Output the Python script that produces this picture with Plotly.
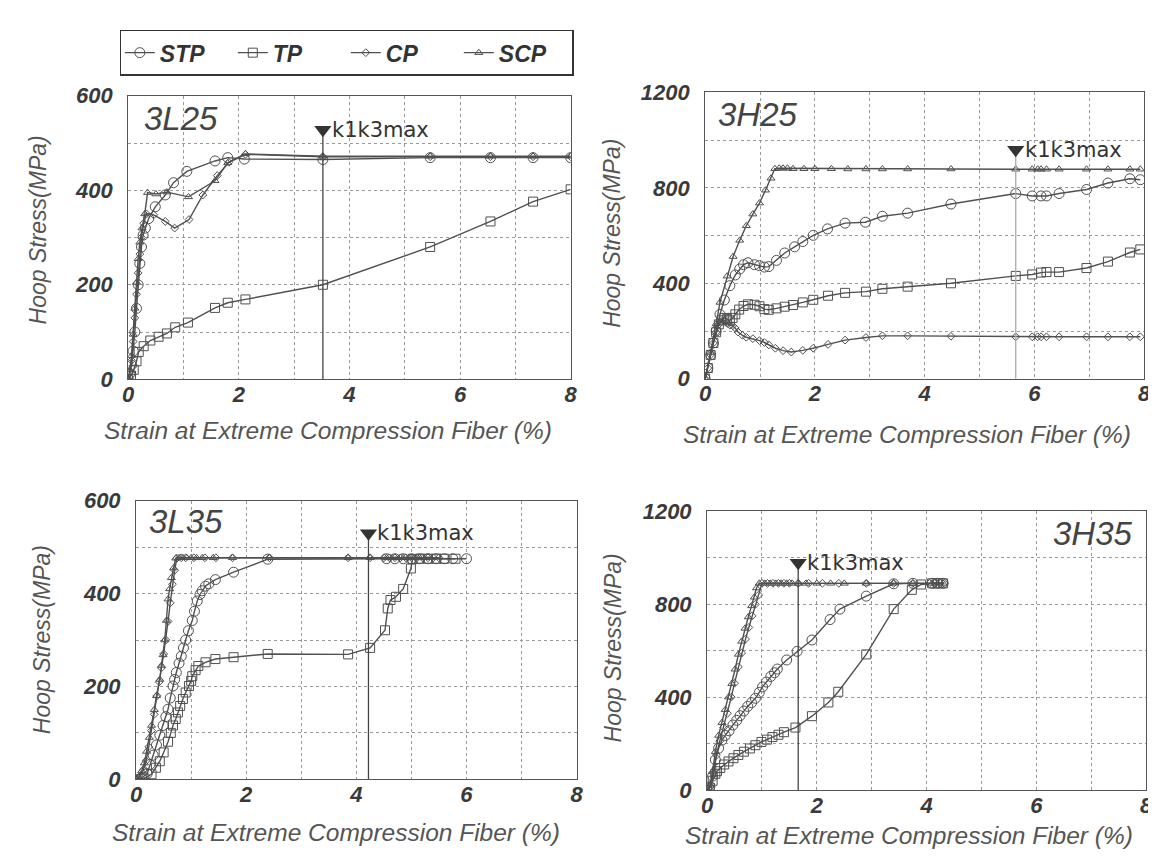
import plotly.graph_objects as go

W, H = 1156, 863

# ---------------- data ----------------
series_names = ["STP", "TP", "CP", "SCP"]
panel_names = ["3L25", "3H25", "3L35", "3H35"]
x_tick_vals = [0, 2, 4, 6, 8]
y_tick_vals_L = [0, 200, 400, 600]
y_tick_vals_H = [0, 400, 800, 1200]

# 3L25
l25_stp_x = [0, 0.03, 0.06, 0.09, 0.12, 0.15, 0.18, 0.21, 0.24, 0.27, 0.31, 0.37, 0.49, 0.67, 0.82, 1.06, 1.57, 1.80, 2.10, 3.52, 5.46, 6.55, 7.32, 8.0]
l25_stp_y = [0, 12, 30, 60, 100, 150, 200, 245, 280, 305, 320, 340, 365, 390, 416, 440, 462, 469, 466, 465, 469, 469, 469, 469]
l25_tp_x = [0, 0.05, 0.10, 0.15, 0.19, 0.28, 0.40, 0.55, 0.70, 0.85, 1.08, 1.57, 1.80, 2.12, 3.52, 5.46, 6.55, 7.32, 8.0]
l25_tp_y = [0, 8, 20, 38, 58, 70, 82, 90, 97, 110, 120, 151, 162, 169, 200, 280, 334, 376, 402]
l25_cp_x = [0, 0.03, 0.06, 0.09, 0.12, 0.15, 0.18, 0.21, 0.24, 0.28, 0.33, 0.46, 0.67, 0.84, 1.10, 1.35, 1.61, 1.82, 2.12, 3.52, 5.46, 6.55, 7.32, 8.0]
l25_cp_y = [0, 15, 40, 80, 130, 180, 225, 265, 300, 330, 350, 348, 334, 320, 338, 390, 431, 459, 476, 471, 471, 471, 471, 471]
l25_scp_x = [0, 0.03, 0.06, 0.09, 0.12, 0.15, 0.18, 0.21, 0.25, 0.30, 0.35, 0.50, 0.70, 1.09, 1.57, 1.80, 2.12, 3.52, 5.46, 6.55, 7.32, 8.0]
l25_scp_y = [0, 20, 50, 95, 150, 205, 255, 290, 320, 350, 395, 392, 396, 386, 420, 458, 477, 472, 472, 472, 472, 472]

# 3H25
h25_stp_x = [0, 0.05, 0.10, 0.15, 0.20, 0.27, 0.35, 0.45, 0.55, 0.63, 0.70, 0.78, 0.90, 0.99, 1.08, 1.16, 1.30, 1.45, 1.63, 1.78, 1.97, 2.23, 2.55, 2.92, 3.23, 3.69, 4.48, 5.66, 5.96, 6.12, 6.22, 6.45, 6.95, 7.34, 7.74, 7.93]
h25_stp_y = [0, 45, 100, 150, 200, 270, 330, 390, 435, 460, 478, 486, 478, 474, 468, 470, 496, 527, 553, 575, 601, 628, 652, 656, 681, 694, 732, 776, 766, 766, 766, 776, 793, 820, 838, 834]
h25_tp_x = [0, 0.05, 0.10, 0.15, 0.20, 0.25, 0.30, 0.35, 0.40, 0.45, 0.50, 0.55, 0.62, 0.70, 0.78, 0.90, 0.99, 1.08, 1.16, 1.30, 1.45, 1.60, 1.78, 1.97, 2.24, 2.55, 2.93, 3.23, 3.69, 4.48, 5.66, 5.96, 6.12, 6.22, 6.45, 6.95, 7.34, 7.74, 7.93]
h25_tp_y = [0, 45, 100, 150, 195, 228, 245, 255, 250, 245, 255, 270, 290, 305, 312, 310, 304, 292, 289, 295, 302, 309, 320, 331, 348, 360, 365, 377, 386, 400, 431, 437, 445, 447, 447, 464, 491, 529, 542]
h25_cp_x = [0, 0.05, 0.10, 0.15, 0.20, 0.25, 0.30, 0.35, 0.40, 0.45, 0.50, 0.55, 0.60, 0.68, 0.75, 0.87, 0.99, 1.08, 1.16, 1.28, 1.42, 1.57, 1.78, 1.97, 2.24, 2.55, 2.93, 3.23, 3.69, 4.48, 5.66, 5.96, 6.06, 6.12, 6.22, 6.45, 6.95, 7.34, 7.74, 7.93]
h25_cp_y = [0, 45, 100, 150, 195, 228, 240, 245, 232, 225, 222, 212, 196, 182, 174, 168, 160, 152, 142, 128, 118, 112, 119, 128, 144, 162, 173, 180, 180, 178, 176, 176, 176, 176, 176, 176, 176, 176, 176, 176]
h25_scp_x = [0, 0.10, 0.20, 0.27, 0.40, 0.51, 0.63, 0.75, 0.87, 0.99, 1.10, 1.20, 1.27, 1.35, 1.42, 1.50, 1.60, 1.80, 2.00, 2.30, 2.60, 2.93, 3.23, 3.69, 4.48, 5.66, 5.96, 6.06, 6.12, 6.22, 6.45, 6.95, 7.34, 7.74, 7.93]
h25_scp_y = [0, 110, 230, 320, 430, 512, 580, 641, 690, 736, 790, 840, 880, 882, 882, 882, 880, 880, 880, 880, 879, 879, 879, 879, 879, 878, 878, 878, 878, 878, 878, 878, 878, 878, 878]

# 3L35
l35_stp_x = [0, 0.10, 0.20, 0.25, 0.31, 0.37, 0.43, 0.49, 0.54, 0.58, 0.62, 0.67, 0.70, 0.73, 0.78, 0.82, 0.86, 0.90, 0.95, 1.02, 1.06, 1.11, 1.16, 1.20, 1.26, 1.32, 1.44, 1.77, 2.39, 4.55, 4.70, 4.85, 5.00, 5.15, 5.30, 5.45, 5.60, 5.75, 6.00]
l35_stp_y = [0, 3, 12, 32, 52, 74, 95, 116, 135, 151, 175, 201, 215, 230, 250, 265, 283, 300, 320, 342, 362, 384, 398, 406, 416, 421, 430, 446, 474, 475, 475, 475, 475, 475, 475, 475, 475, 475, 475]
l35_tp_x = [0, 0.15, 0.28, 0.36, 0.43, 0.50, 0.58, 0.63, 0.67, 0.72, 0.76, 0.80, 0.85, 0.90, 0.96, 1.00, 1.02, 1.08, 1.13, 1.26, 1.44, 1.77, 2.39, 3.85, 4.25, 4.52, 4.57, 4.62, 4.72, 4.85, 4.99, 5.02, 5.15, 5.30, 5.45, 5.60, 5.80]
l35_tp_y = [0, 2, 11, 25, 39, 58, 81, 100, 116, 130, 144, 158, 173, 187, 201, 212, 222, 235, 244, 252, 259, 263, 270, 269, 283, 321, 368, 386, 393, 410, 454, 474, 475, 475, 475, 475, 475]
l35_cp_x = [0, 0.08, 0.13, 0.18, 0.23, 0.28, 0.33, 0.38, 0.42, 0.46, 0.50, 0.54, 0.58, 0.62, 0.66, 0.70, 0.74, 0.82, 0.90, 1.05, 1.25, 1.45, 1.75, 2.42, 3.85, 4.25, 4.50, 4.60, 4.70, 4.80, 4.90, 5.00, 5.10, 5.20, 5.30, 5.40, 5.50]
l35_cp_y = [0, 8, 20, 40, 70, 105, 140, 180, 210, 240, 270, 300, 340, 380, 420, 450, 476, 477, 477, 477, 477, 477, 477, 477, 477, 477, 477, 477, 477, 477, 477, 477, 477, 477, 477, 477, 477]
l35_scp_x = [0, 0.05, 0.10, 0.15, 0.19, 0.24, 0.28, 0.33, 0.37, 0.43, 0.46, 0.49, 0.52, 0.55, 0.58, 0.61, 0.64, 0.68, 0.72, 0.78, 0.85, 0.92, 1.00, 1.10, 1.20, 1.40, 1.75, 2.42, 3.85, 4.25, 4.55, 4.65, 4.75, 4.85, 4.95, 5.05, 5.15, 5.25, 5.35]
l35_scp_y = [0, 5, 18, 35, 60, 90, 116, 150, 180, 215, 245, 268, 300, 342, 388, 410, 434, 455, 476, 477, 477, 477, 477, 477, 477, 477, 477, 477, 477, 477, 477, 477, 477, 477, 477, 477, 477, 477, 477]

# 3H35
h35_stp_x = [0, 0.05, 0.10, 0.15, 0.21, 0.27, 0.33, 0.40, 0.47, 0.54, 0.60, 0.67, 0.74, 0.81, 0.88, 0.95, 1.01, 1.08, 1.16, 1.23, 1.28, 1.45, 1.64, 1.91, 2.24, 2.42, 2.90, 3.40, 3.75, 4.10, 4.20, 4.30]
h35_stp_y = [0, 15, 60, 130, 180, 215, 235, 255, 280, 300, 320, 340, 360, 376, 395, 420, 444, 465, 489, 505, 521, 560, 597, 646, 734, 779, 835, 888, 890, 890, 890, 890]
h35_tp_x = [0, 0.05, 0.10, 0.15, 0.18, 0.24, 0.31, 0.39, 0.48, 0.57, 0.67, 0.78, 0.88, 0.99, 1.09, 1.19, 1.30, 1.40, 1.61, 1.91, 2.21, 2.39, 2.90, 3.40, 3.73, 3.90, 4.10, 4.20, 4.30]
h35_tp_y = [0, 10, 40, 70, 81, 95, 110, 123, 137, 151, 165, 179, 193, 207, 217, 228, 238, 249, 269, 318, 377, 423, 584, 779, 862, 885, 890, 890, 890]
h35_cp_x = [0, 0.06, 0.12, 0.17, 0.23, 0.30, 0.37, 0.44, 0.50, 0.57, 0.63, 0.70, 0.76, 0.82, 0.88, 0.94, 1.00, 1.10, 1.20, 1.30, 1.40, 1.50, 1.66, 1.85, 2.10, 2.40, 2.90, 3.40, 3.75, 4.05, 4.15, 4.25, 4.32]
h35_cp_y = [0, 15, 70, 150, 210, 270, 330, 400, 460, 530, 590, 650, 700, 750, 800, 840, 890, 890, 890, 890, 890, 890, 890, 890, 890, 890, 890, 890, 890, 890, 890, 890, 890]
h35_scp_x = [0, 0.05, 0.10, 0.15, 0.21, 0.27, 0.33, 0.39, 0.45, 0.51, 0.57, 0.63, 0.69, 0.75, 0.81, 0.86, 0.90, 0.95, 1.05, 1.15, 1.25, 1.35, 1.45, 1.55, 1.66, 1.80, 2.00, 2.25, 2.50, 2.90, 3.40, 3.75, 4.10, 4.20, 4.30]
h35_scp_y = [0, 20, 80, 165, 235, 290, 346, 400, 458, 520, 584, 640, 696, 745, 793, 830, 870, 890, 890, 890, 890, 890, 890, 890, 890, 890, 890, 890, 890, 890, 890, 890, 890, 890, 890]

# k1k3max markers: (strain, stress) per panel
k_x = [3.52, 5.66, 4.22, 1.66]
k_y = [528, 960, 530, 979]

panels_data = [
    [(l25_stp_x, l25_stp_y), (l25_tp_x, l25_tp_y), (l25_cp_x, l25_cp_y), (l25_scp_x, l25_scp_y)],
    [(h25_stp_x, h25_stp_y), (h25_tp_x, h25_tp_y), (h25_cp_x, h25_cp_y), (h25_scp_x, h25_scp_y)],
    [(l35_stp_x, l35_stp_y), (l35_tp_x, l35_tp_y), (l35_cp_x, l35_cp_y), (l35_scp_x, l35_scp_y)],
    [(h35_stp_x, h35_stp_y), (h35_tp_x, h35_tp_y), (h35_cp_x, h35_cp_y), (h35_scp_x, h35_scp_y)],
]

# ---------------- styling / layout ----------------
FONT = "Liberation Sans, Arial, sans-serif"
LINE = "#505050"
symbols = ["circle-open", "square-open", "diamond-open", "triangle-up-open"]
msizes = [10, 9, 6, 7]

# plot-area pixel boxes (left, right, top, bottom)
boxes = [(115.5, 563, 78, 370), (699, 1143, 74.5, 369.5), (123.5, 569, 495, 782), (701, 1145, 506, 793)]
y_ranges = [600, 1200, 600, 1200]
y_ticks = [y_tick_vals_L, y_tick_vals_H, y_tick_vals_L, y_tick_vals_H]
y_minor = [100, 200, 100, 200]

fig = go.Figure()

for p in range(4):
    xa = "x" if p == 0 else f"x{p+1}"
    ya = "y" if p == 0 else f"y{p+1}"
    for s in range(4):
        xs, ys = panels_data[p][s]
        fig.add_trace(go.Scatter(
            x=xs, y=ys, mode="lines+markers", name=series_names[s],
            legendgroup=series_names[s], showlegend=(p == 0),
            line=dict(color=LINE, width=1.4),
            marker=dict(symbol=symbols[s], size=msizes[s], color=LINE, line=dict(width=1, color=LINE)),
            xaxis=xa, yaxis=ya, hoverinfo="skip"))
    # k1k3max vertical line and marker
    fig.add_trace(go.Scatter(x=[k_x[p], k_x[p]], y=[0, k_y[p]], mode="lines",
                             line=dict(color="#444" if p != 1 else "#aaa", width=1.3),
                             showlegend=False, xaxis=xa, yaxis=ya, hoverinfo="skip"))
    fig.add_trace(go.Scatter(x=[k_x[p]], y=[k_y[p]], mode="markers",
                             marker=dict(symbol="triangle-down", size=15, color="#333"),
                             showlegend=False, xaxis=xa, yaxis=ya, hoverinfo="skip", cliponaxis=False))

layout = dict(
    width=W, height=H, margin=dict(l=0, r=0, t=0, b=0),
    paper_bgcolor="white", plot_bgcolor="white",
    showlegend=True,
    legend=dict(orientation="h", x=107 / W, y=1 - 10 / H, xanchor="left", yanchor="top",
                bordercolor="#333", borderwidth=1.5, bgcolor="white",
                font=dict(family=FONT, size=23, color="#333", weight="bold", style="italic"),
                itemwidth=30, entrywidth=68, tracegroupgap=0),
)

annotations = []
for p in range(4):
    l, r, t, b = boxes[p]
    xkey = "xaxis" if p == 0 else f"xaxis{p+1}"
    ykey = "yaxis" if p == 0 else f"yaxis{p+1}"
    ya = "y" if p == 0 else f"y{p+1}"
    xa = "x" if p == 0 else f"x{p+1}"
    layout[xkey] = dict(
        domain=[l / W, r / W], range=[0, 8], anchor=ya,
        tickvals=x_tick_vals, ticks="", ticklabelstandoff=-5,
        tickfont=dict(family=FONT, size=22, color="#3a3a3a", weight="bold", style="italic"),
        showgrid=True, gridcolor="#9a9a9a", griddash="dot", gridwidth=1,
        minor=dict(dtick=1, showgrid=True, gridcolor="#9a9a9a", griddash="dot", gridwidth=1),
        showline=True, linecolor="#555", linewidth=1.2, mirror=True, zeroline=False,
    )
    layout[ykey] = dict(
        domain=[1 - b / H, 1 - t / H], range=[0, y_ranges[p]], anchor=xa,
        tickvals=y_ticks[p], ticks="", ticklabelstandoff=10,
        tickfont=dict(family=FONT, size=22, color="#3a3a3a", weight="bold", style="italic"),
        showgrid=True, gridcolor="#9a9a9a", griddash="dot", gridwidth=1,
        minor=dict(dtick=y_minor[p], showgrid=True, gridcolor="#9a9a9a", griddash="dot", gridwidth=1),
        showline=True, linecolor="#555", linewidth=1.2, mirror=True, zeroline=False,
    )
    # k1k3max label
    annotations.append(dict(x=k_x[p], y=k_y[p], xref=xa, yref=ya, text="k1k3max", showarrow=False,
                            xanchor="left", yanchor="middle", xshift=7,
                            font=dict(family="DejaVu Sans, sans-serif", size=21, color="#333")))

# axis titles
ytitle_pos = [(24, 216), (604, 220), (28, 638), (606, 647)]
xtitle_pos = [(318, 423), (903, 427), (326, 837), (905, 840)]
for p in range(4):
    annotations.append(dict(x=ytitle_pos[p][0] / W, y=1 - ytitle_pos[p][1] / H, xref="paper", yref="paper",
                            text="Hoop Stress(MPa)", textangle=-90, showarrow=False,
                            xanchor="center", yanchor="middle",
                            font=dict(family=FONT, size=23, color="#555", style="italic")))
    annotations.append(dict(x=xtitle_pos[p][0] / W, y=1 - xtitle_pos[p][1] / H, xref="paper", yref="paper",
                            text="Strain at Extreme Compression Fiber (%)", showarrow=False,
                            xanchor="center", yanchor="middle",
                            font=dict(family=FONT, size=24.5, color="#555", style="italic")))

# panel labels
label_pos = [(169, 101), (752, 97), (174, 516), (1091, 529)]
for p in range(4):
    annotations.append(dict(x=label_pos[p][0] / W, y=1 - label_pos[p][1] / H, xref="paper", yref="paper",
                            text=panel_names[p], showarrow=False, xanchor="center", yanchor="middle",
                            font=dict(family=FONT, size=33, color="#444", style="italic")))

layout["annotations"] = annotations
fig.update_layout(**layout)

fig.write_html("out.html")
